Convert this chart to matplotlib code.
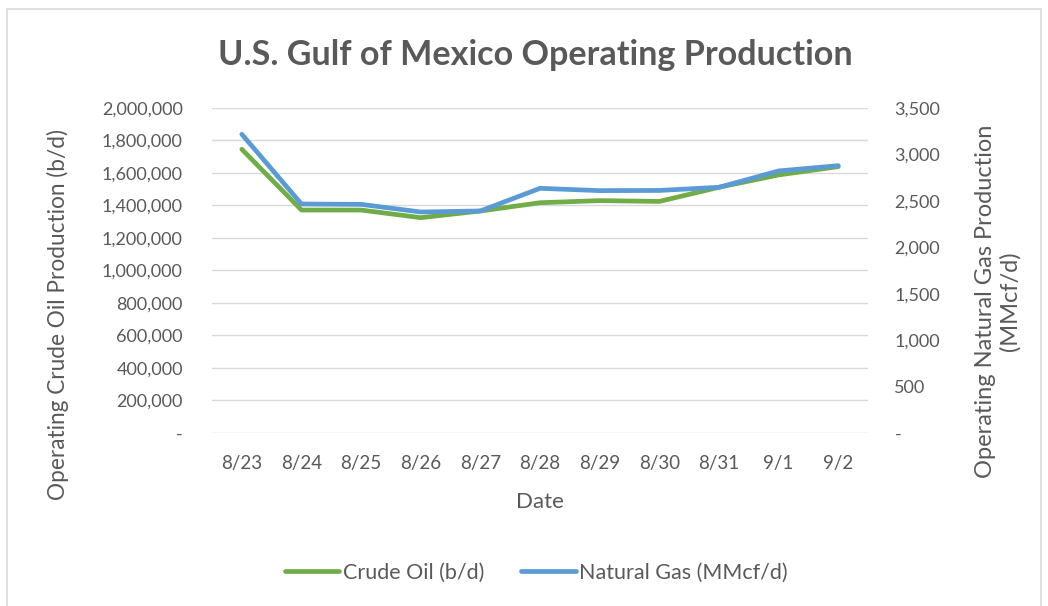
import numpy as np
import matplotlib
matplotlib.use("Agg")
from matplotlib import pyplot as plt
from matplotlib.ticker import FuncFormatter

dates = ['8/23', '8/24', '8/25', '8/26', '8/27', '8/28', '8/29', '8/30', '8/31', '9/1', '9/2']
crude_oil = [1746000, 1372000, 1372000, 1325000, 1366000, 1417000, 1430000, 1425000, 1512000, 1588000, 1639000]
natural_gas = [3217, 2466, 2462, 2380, 2391, 2635, 2610, 2612, 2646, 2822, 2879]

oil_ticks = np.arange(0, 2000001, 200000)
gas_ticks = np.arange(0, 3501, 500)

GREEN = '#70AD47'
BLUE = '#5B9BD5'
TXT = '#595959'

plt.rcParams['font.family'] = ['Lato', 'DejaVu Sans']

def acct(v, pos):
    # excel accounting style: zero shown as a dash
    if v == 0:
        return '-'
    return '{:,.0f}'.format(v)

fig = plt.figure(figsize=(10.48, 6.06), dpi=100)
# chart border (bottom edge falls outside the image)
fig.patches.append(plt.Rectangle((7/1048, -0.05), 1034/1048, 1.05 - 9/606, transform=fig.transFigure,
                                 fill=False, edgecolor='#D9D9D9', linewidth=1.2))

ax1 = fig.add_axes([0.2023, 0.2855, 0.626, 0.5363])
ax2 = ax1.twinx()

x = np.arange(len(dates))
l1, = ax1.plot(x, crude_oil, color=GREEN, linewidth=3.4, solid_capstyle='round', label='Crude Oil (b/d)', zorder=3)
l2, = ax2.plot(x, natural_gas, color=BLUE, linewidth=3.4, solid_capstyle='round', label='Natural Gas (MMcf/d)', zorder=3)

ax1.set_xlim(-0.5, len(dates) - 0.5)
ax1.set_ylim(0, 2000000)
ax2.set_ylim(0, 3500)
ax1.set_yticks(oil_ticks)
ax2.set_yticks(gas_ticks)
ax1.yaxis.set_major_formatter(FuncFormatter(acct))
ax2.yaxis.set_major_formatter(FuncFormatter(acct))
ax1.set_xticks(x)
ax1.set_xticklabels(dates)

ax1.grid(axis='y', color='#D9D9D9', linewidth=1)
ax1.set_axisbelow(True)
for a in (ax1, ax2):
    for s in a.spines.values():
        s.set_visible(False)
    a.tick_params(length=0, labelsize=13, labelcolor=TXT)
ax1.tick_params(axis='y', pad=21)
ax1.tick_params(axis='x', pad=16, labelsize=13.5)
ax2.tick_params(axis='y', pad=19)

ax1.set_xlabel('Date', fontsize=16, color=TXT, labelpad=14)

fig.text(58/1048, 1 - 315/606, 'Operating Crude Oil Production (b/d)', rotation=90,
         ha='center', va='center', fontsize=16.3, color=TXT)
fig.text(998/1048, 1 - 301/606, 'Operating Natural Gas Production\n(MMcf/d)', rotation=90,
         ha='center', va='center', fontsize=17, color=TXT, linespacing=1.15, multialignment='center')

fig.text(535/1048, 1 - 55/606, 'U.S. Gulf of Mexico Operating Production', ha='center', va='center',
         fontsize=24.6, fontweight='bold', color=TXT)

fig.legend(handles=[l1, l2], loc='center', bbox_to_anchor=(536/1048, 1 - 573/606), ncol=2, frameon=False,
           fontsize=15.5, labelcolor=TXT, handlelength=2.55, handletextpad=0.15, columnspacing=1.7,
           borderpad=0, borderaxespad=0)

plt.savefig('out.png', dpi=100)
